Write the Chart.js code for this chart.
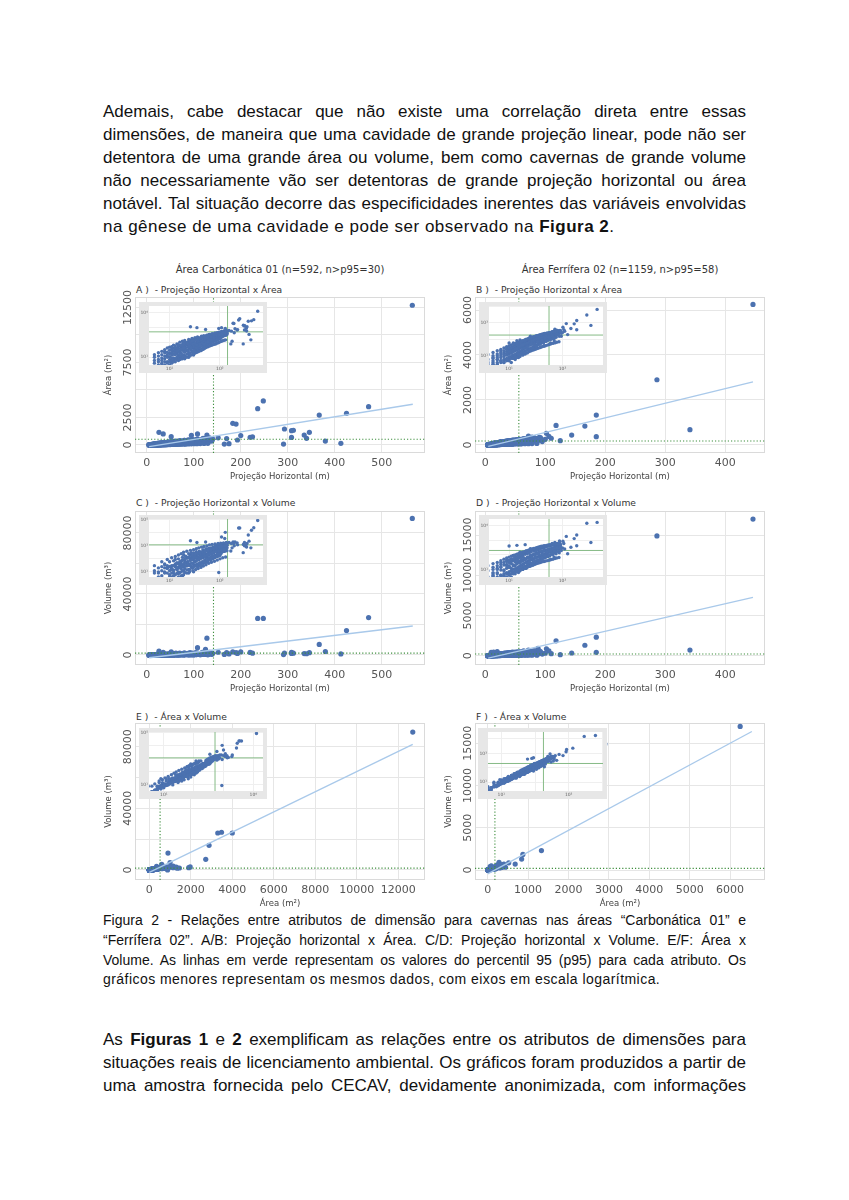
<!DOCTYPE html>
<html>
<head>
<meta charset="utf-8">
<script src="https://cdn.jsdelivr.net/npm/chart.js@4.4.1/dist/chart.umd.min.js"></script>
<style>
  body { margin: 0; background: #fff; }
  #page { position: relative; width: 849px; height: 1200px; font-family: "Liberation Sans", Arial, sans-serif; color: #111; }
  .p { position: absolute; left: 103px; width: 643px; font-size: 17px; line-height: 22px; text-align: justify; text-align-last: justify; }
  .p.last { text-align-last: left; letter-spacing: 0.5px; }
  .c { position: absolute; left: 103px; width: 643px; font-size: 14px; line-height: 18px; text-align: justify; text-align-last: justify; }
  .c.last { text-align-last: left; letter-spacing: 0.45px; }
  .ftitle { position: absolute; width: 320px; text-align: center; font: 10px "DejaVu Sans"; color: #333; line-height: 12px; }
  .plabel { position: absolute; font: 9.2px "DejaVu Sans"; color: #333; line-height: 12px; white-space: pre; }
  canvas { position: absolute; }
  canvas.inset { z-index: 2; }
</style>
</head>
<body>
<div id="page">
  <div class="p" style="top:101px">Ademais, cabe destacar que não existe uma correlação direta entre essas</div>
  <div class="p" style="top:124px">dimensões, de maneira que uma cavidade de grande projeção linear, pode não ser</div>
  <div class="p" style="top:147px">detentora de uma grande área ou volume, bem como cavernas de grande volume</div>
  <div class="p" style="top:170px">não necessariamente vão ser detentoras de grande projeção horizontal ou área</div>
  <div class="p" style="top:193px">notável. Tal situação decorre das especificidades inerentes das variáveis envolvidas</div>
  <div class="p last" style="top:216px">na gênese de uma cavidade e pode ser observado na <b>Figura 2</b>.</div>

  <div class="ftitle" style="left:120px;top:264px">Área Carbonática 01 (n=592, n&gt;p95=30)</div>
  <div class="ftitle" style="left:460px;top:264px">Área Ferrífera 02 (n=1159, n&gt;p95=58)</div>
  <div class="plabel" style="left:136px;top:284px">A )  - Projeção Horizontal x Área</div>
  <div class="plabel" style="left:476px;top:284px">B )  - Projeção Horizontal x Área</div>
  <div class="plabel" style="left:136px;top:497px">C )  - Projeção Horizontal x Volume</div>
  <div class="plabel" style="left:476px;top:497px">D )  - Projeção Horizontal x Volume</div>
  <div class="plabel" style="left:136px;top:711px">E )  - Área x Volume</div>
  <div class="plabel" style="left:476px;top:711px">F )  - Área x Volume</div>

  <div class="c" style="top:911px">Figura 2 - Relações entre atributos de dimensão para cavernas nas áreas “Carbonática 01” e</div>
  <div class="c" style="top:931px">“Ferrífera 02”. A/B: Projeção horizontal x Área. C/D: Projeção horizontal x Volume. E/F: Área x</div>
  <div class="c" style="top:951px">Volume. As linhas em verde representam os valores do percentil 95 (p95) para cada atributo. Os</div>
  <div class="c last" style="top:970px">gráficos menores representam os mesmos dados, com eixos em escala logarítmica.</div>

  <div class="p" style="top:1029px">As <b>Figuras 1</b> e <b>2</b> exemplificam as relações entre os atributos de dimensões para</div>
  <div class="p" style="top:1052px">situações reais de licenciamento ambiental. Os gráficos foram produzidos a partir de</div>
  <div class="p" style="top:1075px">uma amostra fornecida pelo CECAV, devidamente anonimizada, com informações</div>
</div>

<script>
// Área Carbonática 01 - one entry per cave: projeção horizontal (m), área (m²), volume (m³)
const carbProj = [
  5, 6, 6, 7, 7, 8, 8, 9, 9, 10,
  10, 10, 11, 11, 12, 12, 12, 13, 13, 14,
  14, 15, 15, 15, 16, 17, 17, 18, 18, 19,
  20, 20, 20, 21, 22, 22, 23, 24, 25, 25,
  26, 27, 28, 28, 29, 30, 30, 31, 32, 33,
  34, 35, 35, 36, 37, 38, 39, 40, 40, 42,
  43, 44, 45, 46, 47, 48, 50, 50, 52, 53,
  55, 56, 58, 58, 60, 61, 63, 65, 66, 68,
  70, 71, 73, 75, 76, 78, 80, 82, 84, 85,
  87, 88, 90, 92, 94, 95, 97, 100, 102, 104,
  106, 108, 110, 112, 115, 118, 120, 122, 125, 128,
  130, 133, 135, 138, 140, 6, 8, 9, 11, 13,
  16, 19, 21, 24, 26, 29, 33, 37, 41, 46,
  52, 57, 64, 72, 80, 90, 100,
  565, 248, 236, 472, 425, 367, 183, 190, 293, 308,
  312, 346, 335, 308, 340, 291, 380, 413, 220, 225,
  200, 170, 165, 175, 152, 193, 128, 108, 125, 26,
  35, 52, 95,
  5, 5, 6, 7, 7, 8, 8, 9, 9, 10,
  10, 11, 11, 12, 12, 13, 13, 14, 14, 15,
  15, 16, 16, 17, 17, 18, 18, 19, 19, 20,
  21, 21, 22, 23, 23, 24, 25, 25, 26, 27,
  27, 28, 29, 30, 30, 31, 32, 33, 34, 35,
  36, 37, 38, 39, 40, 41, 42, 44, 45, 46,
  47, 48, 50, 51, 53, 54, 56, 57, 59, 60,
  62, 64, 66, 67, 69, 72, 74, 77, 79, 81,
  83, 86, 89, 91, 93, 96, 99, 101, 105, 109,
  113, 117, 121, 126, 131, 136, 139, 18, 24, 30,
  5, 5, 6, 6, 7, 7, 8, 8, 9, 9,
  10, 10, 11, 11, 12, 12, 13, 13, 14, 14,
  15, 15, 16, 16, 17, 17, 18, 18, 19, 19,
  20, 20, 22, 22, 24, 24, 25, 26, 27, 28,
  29, 30, 31, 32, 33, 34, 35, 36, 37, 38,
  39, 40, 42, 43, 44, 45, 47, 48, 50, 51,
  53, 55, 57, 58, 60, 62, 64, 66, 68, 70,
  72, 75, 78, 80, 83, 86, 89, 92, 95, 98,
  101, 104, 107, 110, 114, 118, 122, 126, 130, 134,
  11, 14, 17, 23, 28, 34, 41, 49, 58, 67
];
const carbArea = [
  4, 7, 5, 9, 6, 12, 8, 15, 10, 18,
  11, 7, 20, 14, 25, 16, 9, 22, 30, 18,
  35, 24, 40, 13, 28, 45, 20, 32, 55, 26,
  38, 60, 22, 45, 30, 70, 50, 35, 80, 42,
  58, 30, 65, 95, 48, 75, 40, 110, 55, 85,
  62, 130, 45, 95, 70, 150, 80, 110, 55, 180,
  90, 125, 65, 200, 100, 140, 75, 230, 160, 110,
  260, 130, 85, 190, 300, 150, 220, 120, 340, 170,
  250, 140, 380, 200, 290, 160, 420, 230, 330, 180,
  270, 460, 210, 360, 300, 240, 500, 280, 400, 330,
  260, 550, 380, 300, 450, 350, 600, 420, 320, 500,
  380, 650, 450, 350, 560, 12, 20, 5, 6, 8,
  10, 14, 75, 18, 90, 25, 30, 40, 35, 50,
  65, 80, 95, 110, 130, 160, 190,
  12700, 4000, 3300, 3480, 2880, 2720, 1970, 1900, 1450, 1300,
  1340, 1150, 900, 690, 600, 80, 350, 150, 700, 740,
  850, 580, 80, 120, 650, 450, 900, 1000, 600, 1150,
  1000, 750, 880,
  10, 6, 3, 15, 4, 25, 5, 22, 12, 30,
  5, 35, 9, 40, 6, 15, 45, 10, 28, 55,
  8, 18, 60, 12, 35, 70, 15, 45, 90, 12,
  28, 100, 16, 85, 25, 120, 20, 60, 35, 140,
  45, 22, 75, 160, 28, 50, 90, 38, 170, 65,
  30, 120, 48, 200, 75, 40, 140, 60, 95, 250,
  50, 115, 180, 60, 280, 95, 200, 70, 130, 330,
  100, 170, 80, 240, 120, 310, 110, 200, 140, 360,
  120, 220, 150, 410, 180, 280, 170, 330, 200, 470,
  250, 400, 280, 520, 300, 600, 420, 8, 10, 14,
  2, 15, 20, 2, 3, 25, 3, 33, 4, 42,
  3, 48, 4, 52, 5, 66, 5, 58, 7, 80,
  6, 70, 7, 105, 8, 62, 9, 120, 10, 85,
  8, 135, 10, 95, 11, 160, 13, 110, 14, 190,
  16, 130, 18, 210, 20, 150, 22, 240, 24, 175,
  26, 190, 28, 260, 32, 215, 35, 290, 40, 225,
  45, 310, 50, 250, 55, 345, 60, 280, 65, 390,
  70, 300, 75, 420, 80, 330, 90, 460, 100, 350,
  110, 490, 120, 380, 130, 530, 140, 410, 150, 560,
  30, 40, 65, 85, 120, 45, 60, 75, 110, 140
];
const carbVol = [
  3, 8, 4, 12, 5, 10, 9, 20, 8, 25,
  12, 6, 18, 15, 30, 14, 8, 28, 40, 16,
  50, 22, 45, 10, 35, 60, 18, 30, 80, 25,
  50, 70, 18, 55, 28, 110, 60, 32, 120, 40,
  75, 25, 90, 150, 45, 100, 35, 180, 60, 120,
  70, 200, 40, 140, 85, 260, 90, 150, 50, 320,
  110, 170, 60, 300, 120, 210, 80, 400, 250, 140,
  450, 160, 90, 300, 520, 200, 380, 130, 700, 240,
  420, 150, 800, 300, 500, 180, 900, 380, 600, 200,
  450, 1100, 260, 700, 520, 300, 1200, 400, 800, 550,
  300, 1300, 650, 400, 900, 500, 1400, 700, 380, 1000,
  550, 1500, 800, 420, 1100, 20, 35, 3, 4, 6,
  9, 12, 140, 15, 200, 20, 28, 32, 30, 45,
  55, 70, 85, 100, 120, 150, 180,
  89500, 24000, 24000, 24500, 16000, 6900, 2000, 1500, 1300, 1800,
  1200, 1500, 900, 1000, 800, 300, 2300, 700, 1700, 1200,
  2000, 1500, 400, 700, 1800, 1000, 11000, 4800, 3700, 2500,
  1800, 2000, 9,
  12, 8, 2, 25, 3, 40, 3, 18, 30, 60,
  4, 30, 15, 70, 5, 25, 90, 8, 20, 100,
  7, 30, 50, 10, 70, 130, 12, 40, 200, 9,
  45, 160, 14, 120, 35, 250, 15, 110, 30, 300,
  90, 20, 130, 280, 25, 70, 180, 33, 350, 110,
  25, 230, 42, 380, 140, 35, 260, 55, 200, 500,
  45, 240, 350, 50, 600, 120, 450, 60, 220, 650,
  110, 330, 75, 480, 200, 600, 130, 350, 170, 800,
  150, 400, 180, 900, 250, 500, 220, 700, 250, 1000,
  350, 800, 380, 1100, 450, 1300, 700, 5, 8, 10,
  1, 30, 10, 3, 1, 60, 8, 20, 2, 90,
  2, 25, 8, 120, 12, 30, 3, 150, 15, 40,
  4, 200, 20, 60, 5, 250, 25, 80, 6, 320,
  30, 100, 8, 380, 35, 140, 10, 450, 45, 180,
  12, 500, 60, 220, 15, 600, 80, 260, 18, 700,
  100, 300, 22, 800, 130, 360, 28, 900, 160, 420,
  35, 1000, 200, 480, 45, 1200, 250, 550, 55, 1300,
  300, 600, 65, 1400, 350, 700, 80, 1500, 400, 800,
  100, 1600, 450, 900, 120, 1700, 500, 1000, 140, 1800,
  15, 20, 40, 60, 90, 30, 45, 60, 90, 120
];

// Área Ferrífera 02 - same three attributes
const ferrProj = [
  4, 5, 5, 5, 6, 6, 6, 7, 7, 7,
  8, 8, 8, 9, 9, 9, 10, 10, 10, 10,
  11, 11, 11, 12, 12, 12, 13, 13, 13, 14,
  14, 14, 15, 15, 15, 16, 16, 16, 17, 17,
  17, 18, 18, 18, 19, 19, 20, 20, 20, 21,
  21, 22, 22, 22, 23, 23, 24, 24, 25, 25,
  26, 26, 27, 27, 28, 28, 29, 30, 30, 31,
  32, 32, 33, 34, 35, 35, 36, 37, 38, 38,
  40, 40, 41, 42, 43, 44, 45, 46, 47, 48,
  49, 50, 51, 52, 54, 55, 56, 58, 59, 60,
  62, 63, 65, 66, 68, 70, 71, 73, 75, 77,
  80, 82, 85, 90, 95, 12, 16, 25, 45, 60,
  70, 10, 14, 20, 7, 9, 11, 13, 15, 18,
  21, 24, 27, 30, 33, 36, 39, 42, 46, 50,
  55, 62, 68, 75, 84,
  446, 286, 341, 185, 185, 166, 118, 144, 125, 102,
  106, 92, 83, 72, 100, 88, 64, 110, 78, 95,
  4, 4, 5, 5, 6, 6, 6, 7, 7, 7,
  8, 8, 8, 9, 9, 9, 10, 10, 10, 11,
  11, 11, 12, 12, 12, 13, 13, 13, 14, 14,
  14, 15, 15, 15, 16, 16, 16, 17, 17, 17,
  18, 18, 18, 19, 19, 19, 20, 20, 20, 21,
  22, 22, 23, 23, 24, 24, 25, 25, 26, 26,
  27, 28, 28, 29, 30, 30, 31, 32, 33, 33,
  34, 35, 36, 37, 38, 39, 40, 41, 42, 43,
  44, 45, 47, 48, 50, 52, 53, 55, 57, 58,
  61, 64, 66, 69, 72, 76, 79, 83, 87, 92,
  4, 4, 5, 5, 5, 6, 6, 7, 7, 8,
  8, 9, 9, 10, 10, 11, 11, 12, 12, 13,
  13, 14, 14, 15, 15, 16, 16, 17, 17, 18,
  18, 19, 19, 20, 20, 21, 22, 23, 24, 25,
  26, 27, 28, 29, 30, 31, 32, 33, 34, 35,
  36, 37, 38, 39, 40, 41, 42, 44, 45, 46,
  48, 50, 52, 54, 56, 58, 60, 63, 66, 69,
  72, 75, 78, 82, 86, 90, 6, 8, 10, 12,
  14, 16, 18, 20, 22, 24, 26, 28, 30, 32,
  35, 38, 41, 44, 47, 50, 55, 60, 65, 70
];
const ferrArea = [
  4, 5, 8, 3, 6, 10, 4, 8, 13, 5,
  9, 15, 6, 11, 18, 7, 13, 22, 8, 16,
  14, 25, 9, 17, 28, 11, 20, 32, 12, 23,
  36, 15, 26, 42, 17, 30, 48, 19, 33, 55,
  21, 36, 25, 60, 40, 28, 44, 70, 30, 48,
  33, 52, 80, 36, 56, 40, 60, 90, 45, 65,
  70, 100, 50, 75, 80, 55, 110, 85, 60, 90,
  120, 66, 95, 72, 100, 135, 78, 108, 150, 85,
  115, 92, 165, 125, 100, 180, 135, 110, 195, 145,
  120, 210, 155, 130, 225, 170, 140, 240, 180, 155,
  260, 195, 170, 280, 210, 185, 300, 230, 200, 260,
  320, 240, 210, 270, 230, 60, 90, 150, 40, 60,
  80, 60, 80, 90, 20, 30, 4, 6, 8, 12,
  15, 20, 26, 35, 42, 50, 60, 70, 80, 95,
  110, 120, 140, 160, 180,
  6250, 2900, 680, 1330, 370, 840, 870, 440, 190, 520,
  380, 330, 300, 400, 250, 280, 240, 300, 350, 150,
  6, 3, 10, 4, 13, 3, 8, 16, 4, 10,
  20, 5, 12, 24, 5, 14, 28, 6, 18, 32,
  7, 20, 36, 8, 22, 40, 9, 25, 45, 10,
  28, 50, 11, 32, 55, 13, 36, 62, 14, 40,
  68, 16, 44, 74, 18, 48, 80, 20, 52, 88,
  22, 58, 95, 26, 64, 110, 28, 72, 120, 30,
  80, 130, 34, 88, 140, 38, 96, 150, 44, 105,
  160, 50, 115, 170, 56, 125, 185, 62, 135, 200,
  68, 150, 215, 75, 165, 230, 85, 185, 250, 95,
  200, 270, 110, 220, 290, 130, 250, 300, 150, 260,
  2, 12, 3, 16, 7, 20, 3, 24, 5, 30,
  4, 36, 6, 40, 5, 45, 9, 50, 7, 55,
  10, 60, 8, 65, 12, 70, 9, 75, 14, 80,
  11, 85, 16, 90, 13, 100, 15, 110, 18, 120,
  20, 130, 22, 140, 24, 150, 26, 160, 28, 170,
  30, 180, 32, 190, 34, 200, 36, 210, 38, 220,
  40, 230, 44, 240, 48, 250, 52, 260, 56, 280,
  60, 300, 65, 320, 70, 340, 6, 4, 9, 7,
  25, 12, 45, 16, 35, 22, 55, 28, 48, 38,
  70, 50, 90, 60, 110, 75, 130, 95, 150, 115
];
const ferrVol = [
  3, 4, 10, 3, 5, 12, 3, 9, 15, 4,
  8, 20, 5, 12, 22, 6, 14, 30, 7, 18,
  12, 35, 8, 20, 40, 10, 18, 45, 11, 25,
  50, 12, 30, 60, 15, 32, 70, 18, 38, 80,
  20, 40, 22, 90, 48, 25, 50, 110, 28, 55,
  30, 60, 120, 34, 65, 38, 70, 140, 42, 80,
  85, 160, 48, 95, 100, 50, 180, 110, 58, 120,
  200, 62, 130, 70, 140, 220, 75, 150, 250, 80,
  160, 90, 280, 170, 100, 300, 190, 110, 330, 200,
  120, 360, 220, 135, 400, 240, 150, 420, 260, 170,
  460, 280, 190, 500, 310, 200, 540, 330, 220, 380,
  600, 300, 240, 420, 280, 90, 150, 260, 35, 50,
  70, 400, 450, 500, 30, 45, 3, 5, 6, 10,
  12, 16, 22, 30, 38, 45, 55, 65, 75, 90,
  100, 110, 130, 150, 170,
  17000, 14900, 700, 2300, 420, 1300, 1850, 330, 120, 850,
  600, 500, 420, 700, 300, 900, 600, 250, 300, 200,
  8, 2, 14, 5, 18, 2, 6, 22, 3, 14,
  30, 4, 9, 35, 3, 18, 45, 5, 14, 50,
  5, 25, 55, 6, 18, 65, 7, 32, 70, 8,
  24, 85, 9, 40, 95, 10, 30, 100, 12, 50,
  120, 13, 38, 130, 15, 60, 150, 16, 45, 160,
  18, 70, 180, 20, 55, 200, 24, 90, 220, 26,
  70, 240, 30, 110, 260, 32, 85, 280, 38, 130,
  300, 42, 100, 320, 48, 160, 340, 52, 120, 360,
  58, 190, 380, 65, 150, 420, 75, 230, 450, 85,
  180, 480, 100, 270, 520, 120, 300, 560, 140, 330,
  2, 18, 3, 25, 6, 30, 2, 40, 4, 50,
  3, 60, 5, 70, 4, 80, 8, 90, 6, 100,
  9, 110, 7, 120, 11, 130, 8, 140, 13, 150,
  10, 160, 15, 170, 12, 190, 14, 210, 16, 230,
  18, 250, 20, 270, 22, 290, 24, 310, 26, 330,
  28, 350, 30, 370, 32, 390, 34, 410, 36, 430,
  38, 450, 40, 470, 42, 490, 46, 510, 50, 540,
  55, 560, 60, 580, 65, 600, 10, 3, 15, 5,
  40, 9, 70, 12, 25, 30, 90, 20, 35, 60,
  120, 40, 60, 110, 80, 150, 100, 200, 130, 180
];

// percentil 95 of each attribute
const carbP95 = [142, 520, 1200];   // proj, area, volume
const ferrP95 = [56, 178, 200];

// fitted linear trend, start and end points
const trendAx = [5, 566],    trendAy = [-150, 3700];
const trendBx = [5, 446],    trendBy = [-60, 2810];
const trendCx = [5, 566],    trendCy = [-1800, 19000];
const trendDx = [5, 446],    trendDy = [-300, 7260];
const trendEx = [0, 12700],  trendEy = [-1500, 81500];
const trendFx = [0, 6540],   trendFy = [-450, 16400];

// tick values and labels
const ticksProjCarb = [0, 100, 200, 300, 400, 500];
const ticksProjFerr = [0, 100, 200, 300, 400];
const ticksAreaCarbX = [0, 2000, 4000, 6000, 8000, 10000, 12000];
const ticksAreaFerrX = [0, 1000, 2000, 3000, 4000, 5000, 6000];
const gridAreaCarb = [0, 2500, 5000, 7500, 10000, 12500];
const labelsAreaCarb = [0, 2500, 7500, 12500];
const gridAreaFerr = [0, 2000, 4000, 6000];
const gridVolCarb = [0, 20000, 40000, 60000, 80000];
const labelsVolCarb = [0, 40000, 80000];
const gridVolFerr = [0, 5000, 10000, 15000];
const insetDecades = [1, 10, 100, 1000, 10000, 100000];

const FONT = 'DejaVu Sans';
const BLUE = '#4c72b0';
const SUP = { 0: '⁰', 1: '¹', 2: '²', 3: '³', 4: '⁴', 5: '⁵' };
const PAD_TOP = 14;

function pts (xs, ys) {
    return xs.map((x, i) => ({ x: x, y: ys[i] }));
}

// Plugins
const framePlugin = {
    id: 'frame',
    beforeDatasetsDraw (chart) {
        const a = chart.chartArea, c = chart.ctx;
        c.save();
        c.strokeStyle = '#dadada';
        c.lineWidth = 1;
        c.strokeRect(a.left + 0.5, a.top + 0.5, a.width - 1, a.height - 1);
        c.restore();
    }
};

const yLabelPlugin = { // rotated y tick labels
    id: 'yLabels',
    afterDraw (chart, args, opts) {
        const c = chart.ctx, s = chart.scales.y;
        c.save();
        c.font = '11px "' + FONT + '"';
        c.fillStyle = '#555';
        c.textAlign = 'center';
        c.textBaseline = 'middle';
        opts.values.forEach(v => {
            c.save();
            c.translate(chart.chartArea.left - 7, s.getPixelForValue(v));
            c.rotate(-Math.PI / 2);
            c.fillText(String(v), 0, 0);
            c.restore();
        });
        c.restore();
    }
};

const insetBg = {
    id: 'insetBg',
    beforeDraw (chart) {
        const a = chart.chartArea, c = chart.ctx;
        c.save();
        c.fillStyle = '#e7e7e7';
        c.fillRect(0, 0, chart.width, chart.height);
        c.fillStyle = '#fff';
        c.fillRect(a.left, a.top, a.width, a.height);
        c.restore();
    }
};

function makeCanvas (left, top, w, h, cls) {
    const cv = document.createElement('canvas');
    cv.width = w; cv.height = h;
    cv.style.left = left + 'px';
    cv.style.top = top + 'px';
    if (cls) cv.className = cls;
    document.getElementById('page').appendChild(cv);
    return cv;
}

// Main panel: plotTop / plotH give the plot area, axisH the room below it
function mainChart (p) {
    const h = PAD_TOP + p.plotH + p.axisH;
    const cv = makeCanvas(p.left, p.plotTop - PAD_TOP, 330, h);
    return new Chart(cv, {
        type: 'scatter',
        data: {
            datasets: [
                { type: 'line', data: pts(p.trendX, p.trendY), borderColor: '#a9c9ea', borderWidth: 1.3, pointRadius: 0 },
                { type: 'line', data: pts([p.p95x, p.p95x], [p.ymin, p.ymax]), borderColor: '#3f8f3f', borderWidth: 1.1, borderDash: [1.2, 2], pointRadius: 0 },
                { type: 'line', data: pts([p.xmin, p.xmax], [p.p95y, p.p95y]), borderColor: '#3f8f3f', borderWidth: 1.1, borderDash: [1.2, 2], pointRadius: 0 },
                { data: pts(p.xs, p.ys), backgroundColor: BLUE, borderWidth: 0, pointRadius: 2.6 }
            ]
        },
        options: {
            responsive: false, animation: false, events: [],
            layout: { padding: { top: PAD_TOP, right: 5, left: 0, bottom: 0 } },
            plugins: { legend: { display: false }, tooltip: { enabled: false }, yLabels: { values: p.yLabels } },
            scales: {
                x: {
                    type: 'linear', min: p.xmin, max: p.xmax,
                    afterBuildTicks: s => { s.ticks = p.xTicks.map(v => ({ value: v })); },
                    afterFit: s => { s.height = p.axisH; },
                    grid: { color: '#e6e6e6', drawTicks: false },
                    border: { display: false },
                    ticks: { padding: 4, autoSkip: false, maxRotation: 0, color: '#555', font: { family: FONT, size: 11 }, callback: v => String(v) },
                    title: { display: true, text: p.xTitle, color: '#444', font: { family: FONT, size: 8.5 }, padding: { top: 0, bottom: 4 } }
                },
                y: {
                    type: 'linear', min: p.ymin, max: p.ymax,
                    afterBuildTicks: s => { s.ticks = p.yGrid.map(v => ({ value: v })); },
                    afterFit: s => { s.width = 35; },
                    grid: { color: '#e6e6e6', drawTicks: false },
                    border: { display: false },
                    ticks: { display: false },
                    title: { display: true, text: p.yTitle, color: '#444', font: { family: FONT, size: 8.5 }, padding: { top: 4, bottom: 0 } }
                }
            }
        },
        plugins: [framePlugin, yLabelPlugin]
    });
}

// Log-log inset
function insetChart (p) {
    const cv = makeCanvas(p.left, p.top, p.w, p.h, 'inset');
    const tickLabel = (list) => (v) => list.includes(v) ? '10' + SUP[Math.round(Math.log10(v))] : '';
    const logAxis = (min, max, labels, isX) => ({
        type: 'logarithmic', min: min, max: max,
        afterBuildTicks: s => { s.ticks = insetDecades.filter(v => v >= min && v <= max).map(v => ({ value: v })); },
        afterFit: s => { if (isX) s.height = 8; else s.width = 10; },
        grid: { color: '#efefef', drawTicks: false },
        border: { display: false },
        ticks: { padding: 1, autoSkip: false, maxRotation: 0, color: '#666', font: { family: FONT, size: 4.5 }, callback: tickLabel(labels) }
    });
    return new Chart(cv, {
        type: 'scatter',
        data: {
            datasets: [
                { data: pts(p.xs, p.ys), backgroundColor: BLUE, borderWidth: 0, pointRadius: 1.7 },
                { type: 'line', data: pts([p.vx, p.vx], [p.ymin, p.ymax]), borderColor: '#86bb86', borderWidth: 1, pointRadius: 0 },
                { type: 'line', data: pts([p.xmin, p.xmax], [p.hy, p.hy]), borderColor: '#86bb86', borderWidth: 1, pointRadius: 0 }
            ]
        },
        options: {
            responsive: false, animation: false, events: [],
            layout: { padding: { top: 1, right: 2, left: 0, bottom: 0 } },
            plugins: { legend: { display: false }, tooltip: { enabled: false } },
            scales: {
                x: logAxis(p.xmin, p.xmax, p.xLab, true),
                y: logAxis(p.ymin, p.ymax, p.yLab, false)
            }
        },
        plugins: [insetBg]
    });
}

const TP = 'Projeção Horizontal (m)', TA = 'Área (m²)', TV = 'Volume (m³)';

mainChart({ left: 100, plotTop: 297, plotH: 156, axisH: 33, xs: carbProj, ys: carbArea, xmin: -25, xmax: 592, ymin: -730, ymax: 13450,
    xTicks: ticksProjCarb, yGrid: gridAreaCarb, yLabels: labelsAreaCarb, trendX: trendAx, trendY: trendAy,
    p95x: carbP95[0], p95y: carbP95[1], xTitle: TP, yTitle: TA });
mainChart({ left: 440, plotTop: 297, plotH: 156, axisH: 33, xs: ferrProj, ys: ferrArea, xmin: -17, xmax: 466, ymin: -356, ymax: 6578,
    xTicks: ticksProjFerr, yGrid: gridAreaFerr, yLabels: gridAreaFerr, trendX: trendBx, trendY: trendBy,
    p95x: ferrP95[0], p95y: ferrP95[1], xTitle: TP, yTitle: TA });
mainChart({ left: 100, plotTop: 511, plotH: 154, axisH: 33, xs: carbProj, ys: carbVol, xmin: -25, xmax: 592, ymin: -6560, ymax: 94400,
    xTicks: ticksProjCarb, yGrid: gridVolCarb, yLabels: labelsVolCarb, trendX: trendCx, trendY: trendCy,
    p95x: carbP95[0], p95y: carbP95[2], xTitle: TP, yTitle: TV });
mainChart({ left: 440, plotTop: 511, plotH: 154, axisH: 33, xs: ferrProj, ys: ferrVol, xmin: -17, xmax: 466, ymin: -1160, ymax: 18000,
    xTicks: ticksProjFerr, yGrid: gridVolFerr, yLabels: gridVolFerr, trendX: trendDx, trendY: trendDy,
    p95x: ferrP95[0], p95y: ferrP95[2], xTitle: TP, yTitle: TV });
mainChart({ left: 100, plotTop: 723, plotH: 157, axisH: 33, xs: carbArea, ys: carbVol, xmin: -690, xmax: 13290, ymin: -6500, ymax: 95400,
    xTicks: ticksAreaCarbX, yGrid: gridVolCarb, yLabels: labelsVolCarb, trendX: trendEx, trendY: trendEy,
    p95x: carbP95[1], p95y: carbP95[2], xTitle: TA, yTitle: TV });
mainChart({ left: 440, plotTop: 723, plotH: 157, axisH: 33, xs: ferrArea, ys: ferrVol, xmin: -315, xmax: 6865, ymin: -1180, ymax: 17400,
    xTicks: ticksAreaFerrX, yGrid: gridVolFerr, yLabels: gridVolFerr, trendX: trendFx, trendY: trendFy,
    p95x: ferrP95[1], p95y: ferrP95[2], xTitle: TA, yTitle: TV });

insetChart({ left: 139, top: 302, w: 128, h: 71, xs: carbProj, ys: carbArea, xmin: 3.9, xmax: 720, ymin: 3, ymax: 29000,
    xLab: [10, 100], yLab: [10, 10000], vx: carbP95[0], hy: carbP95[1] });
insetChart({ left: 479, top: 302, w: 128, h: 71, xs: ferrProj, ys: ferrArea, xmin: 4.2, xmax: 575, ymin: 2.8, ymax: 10000,
    xLab: [10, 100], yLab: [10, 1000], vx: ferrP95[0], hy: ferrP95[1] });
insetChart({ left: 139, top: 515, w: 128, h: 70, xs: carbProj, ys: carbVol, xmin: 3.9, xmax: 720, ymin: 4, ymax: 117000,
    xLab: [10, 100], yLab: [10, 1000, 100000], vx: carbP95[0], hy: carbP95[2] });
insetChart({ left: 479, top: 515, w: 128, h: 70, xs: ferrProj, ys: ferrVol, xmin: 4.2, xmax: 575, ymin: 3, ymax: 29000,
    xLab: [10, 100], yLab: [10, 10000], vx: ferrP95[0], hy: ferrP95[2] });
insetChart({ left: 139, top: 728, w: 128, h: 71, xs: carbArea, ys: carbVol, xmin: 3.2, xmax: 21000, ymin: 3.4, ymax: 117000,
    xLab: [10, 10000], yLab: [10, 100000], vx: carbP95[1], hy: carbP95[2] });
insetChart({ left: 478, top: 728, w: 129, h: 71, xs: ferrArea, ys: ferrVol, xmin: 4, xmax: 10500, ymin: 2.5, ymax: 30000,
    xLab: [10, 1000], yLab: [10, 1000], vx: ferrP95[1], hy: ferrP95[2] });
</script>
</body>
</html>
